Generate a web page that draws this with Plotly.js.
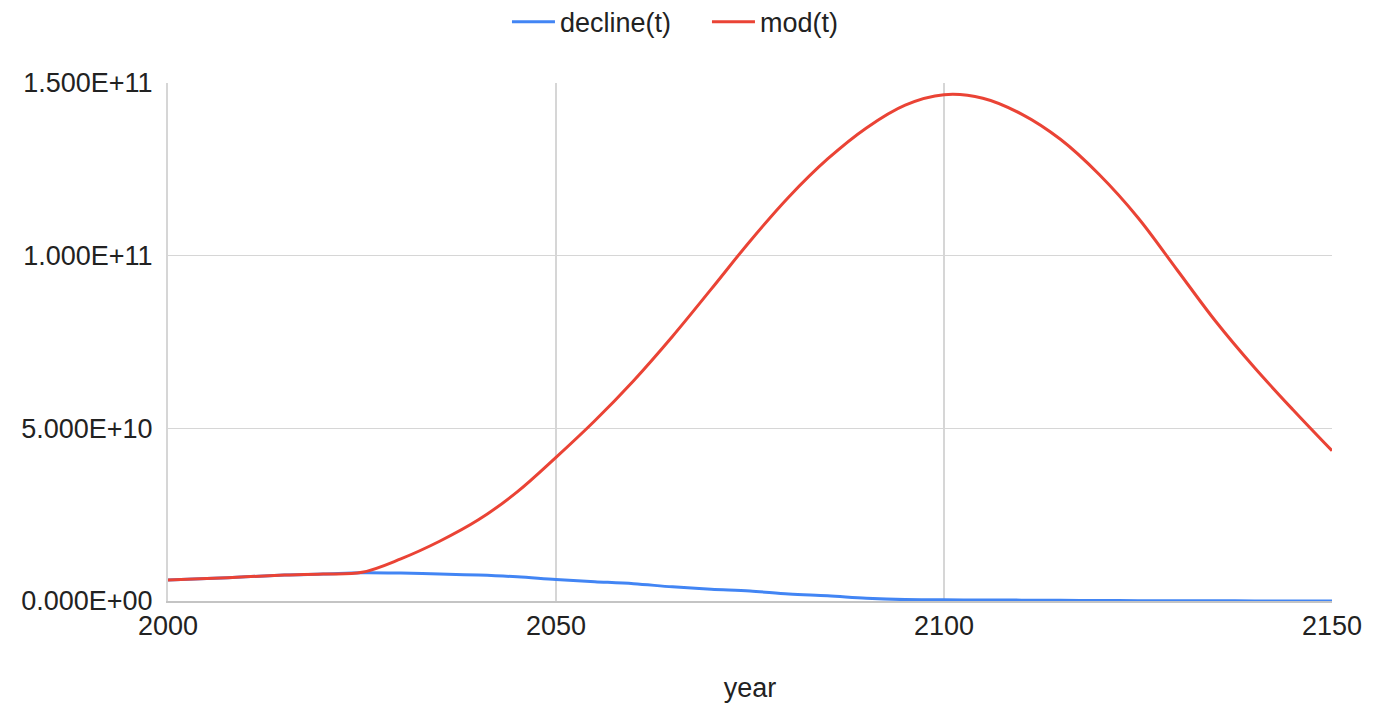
<!DOCTYPE html>
<html>
<head>
<meta charset="utf-8">
<script src="https://cdn.plot.ly/plotly-3.0.1.min.js"></script>
<style>
  html, body { margin: 0; padding: 0; background: #ffffff; }
  #chart { width: 1378px; height: 718px; }
</style>
</head>
<body>
<div id="chart"></div>
<script>
// Years sampled along the curves
const years = [2000, 2005, 2010, 2015, 2020, 2025, 2030, 2035, 2040, 2045, 2050,
               2055, 2060, 2065, 2070, 2075, 2080, 2085, 2090, 2095, 2100,
               2105, 2110, 2115, 2120, 2125, 2130, 2135, 2140, 2145, 2150];

// decline(t), in units of 1e9
const declineBillions = [6.1, 6.5, 7.0, 7.5, 7.8, 8.2, 8.1, 7.8, 7.5, 7.0, 6.2,
                         5.6, 5.0, 4.1, 3.4, 2.9, 2.0, 1.5, 0.8, 0.4, 0.35,
                         0.3, 0.25, 0.2, 0.15, 0.1, 0.1, 0.05, 0.03, 0.02, 0.01];

// mod(t), in units of 1e9
const modBillions = [6.1, 6.5, 7.0, 7.5, 7.8, 8.3, 12.2, 17.3, 23.5, 31.6, 41.6,
                     52.2, 63.8, 76.6, 90.3, 104.2, 117.0, 128.0, 137.0, 143.6, 146.6,
                     145.6, 141.0, 133.7, 123.5, 111.0, 96.0, 81.0, 67.6, 55.3, 43.5];

// Axis ticks
const xTickVals = [2000, 2050, 2100, 2150];
const yTickVals = [0, 5e10, 1e11, 1.5e11];
const yTickText = ['0.000E+00', '5.000E+10', '1.000E+11', '1.500E+11'];

const seriesNames = ['decline(t)', 'mod(t)'];
const seriesColors = ['#4285F4', '#EA4335'];

const declineValues = declineBillions.map(v => v * 1e9);
const modValues = modBillions.map(v => v * 1e9);

const FONT = '"Liberation Sans", Arial, sans-serif';
const FS = 27;
const TXT = '#222222';

const traces = [
  {
    x: years, y: declineValues, name: seriesNames[0], type: 'scatter', mode: 'lines',
    line: { color: seriesColors[0], width: 3, shape: 'spline', smoothing: 1 }
  },
  {
    x: years, y: modValues, name: seriesNames[1], type: 'scatter', mode: 'lines',
    line: { color: seriesColors[1], width: 3, shape: 'spline', smoothing: 1 }
  }
];

const layout = {
  width: 1378, height: 718,
  paper_bgcolor: '#ffffff', plot_bgcolor: '#ffffff',
  margin: { l: 168, r: 46, t: 83, b: 117 },
  font: { family: FONT, size: FS, color: TXT },
  showlegend: true,
  legend: {
    orientation: 'h', xref: 'container', yref: 'container',
    x: 0.3679, xanchor: 'left', y: 0.969, yanchor: 'middle',
    itemwidth: 43, entrywidth: 142, entrywidthmode: 'pixels',
    font: { family: FONT, size: FS, color: TXT },
    bgcolor: 'rgba(0,0,0,0)'
  },
  xaxis: {
    range: [2000, 2150], tickvals: xTickVals, ticktext: xTickVals.map(String),
    showgrid: true, gridcolor: '#d6d6d6', gridwidth: 1.5,
    showline: true, linecolor: '#c4c4c4', linewidth: 2,
    zeroline: false, ticks: '', tickfont: { family: FONT, size: FS, color: TXT },
    title: { text: 'year', font: { family: FONT, size: FS, color: TXT }, standoff: 38 },
    automargin: false, fixedrange: true
  },
  yaxis: {
    range: [0, 1.5e11], tickvals: yTickVals, ticktext: yTickText,
    showgrid: true, gridcolor: '#d6d6d6', gridwidth: 1.5,
    showline: true, linecolor: '#d6d6d6', linewidth: 2,
    zeroline: false, ticks: '', ticklen: 0, ticklabelstandoff: 8,
    tickfont: { family: FONT, size: FS, color: TXT },
    automargin: false, fixedrange: true
  }
};

Plotly.newPlot('chart', traces, layout, { displayModeBar: false, staticPlot: true });
</script>
</body>
</html>
